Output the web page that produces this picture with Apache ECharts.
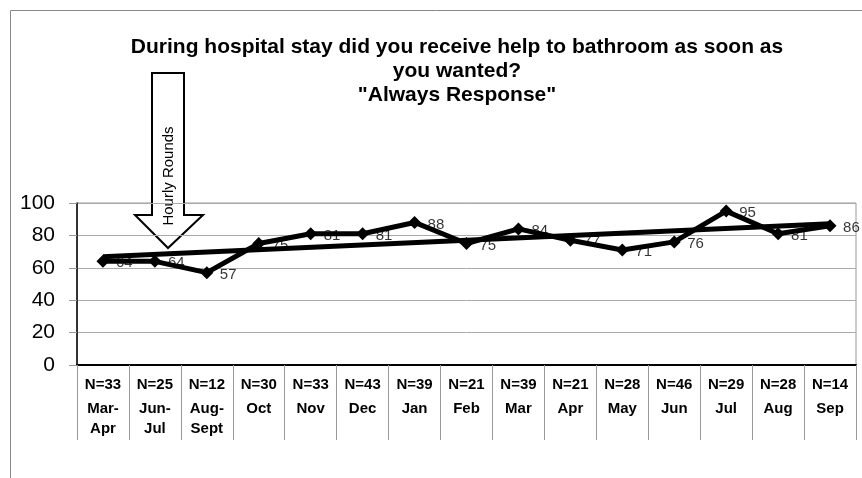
<!DOCTYPE html>
<html>
<head>
<meta charset="utf-8">
<script src="https://cdn.jsdelivr.net/npm/echarts@6/dist/echarts.min.js"></script>
<style>
  html, body { margin: 0; padding: 0; background: #fff; }
  #chart { width: 862px; height: 478px; }
</style>
</head>
<body>
<div id="chart"></div>
<script>
// Survey periods, sample sizes and "Always" response percentages
const categories = ['Mar-\nApr', 'Jun-\nJul', 'Aug-\nSept', 'Oct', 'Nov', 'Dec', 'Jan', 'Feb', 'Mar', 'Apr', 'May', 'Jun', 'Jul', 'Aug', 'Sep'];
const sampleSizes = ['N=33', 'N=25', 'N=12', 'N=30', 'N=33', 'N=43', 'N=39', 'N=21', 'N=39', 'N=21', 'N=28', 'N=46', 'N=29', 'N=28', 'N=14'];
const alwaysPct = [64, 64, 57, 75, 81, 81, 88, 75, 84, 77, 71, 76, 95, 81, 86];
// Linear trend endpoints (first and last period)
const trendEnds = [66.8, 87.2];
const yTicks = [0, 20, 40, 60, 80, 100];

const FONT = 'Arial, "Liberation Sans", sans-serif';
const chart = echarts.init(document.getElementById('chart'));

chart.setOption({
  animation: false,
  backgroundColor: '#fff',
  title: {
    text: 'During hospital stay did you receive help to bathroom as soon as\nyou wanted?\n"Always Response"',
    left: 452,
    textAlign: 'center',
    top: 30,
    textStyle: { fontFamily: FONT, fontSize: 21, fontWeight: 'bold', color: '#000', lineHeight: 24 }
  },
  grid: {
    left: 77, right: 6, top: 203, bottom: 113,
    show: true, borderColor: '#999', borderWidth: 1, backgroundColor: 'transparent'
  },
  xAxis: {
    type: 'category',
    data: categories,
    boundaryGap: true,
    axisLine: { lineStyle: { color: '#000', width: 2 } },
    axisTick: { show: true, length: 75, lineStyle: { color: '#999', width: 1 } },
    axisLabel: {
      interval: 0,
      margin: 6,
      formatter: function (value, idx) {
        const lines = value.split('\n').map(s => '{m|' + s + '}').join('\n');
        return '{n|' + sampleSizes[idx] + '}\n' + lines;
      },
      rich: {
        n: { fontFamily: FONT, fontSize: 15, fontWeight: 'bold', color: '#000', lineHeight: 28 },
        m: { fontFamily: FONT, fontSize: 15, fontWeight: 'bold', color: '#000', lineHeight: 20 }
      }
    }
  },
  yAxis: {
    type: 'value',
    min: yTicks[0],
    max: yTicks[yTicks.length - 1],
    interval: 20,
    axisLine: { show: true, lineStyle: { color: '#000', width: 1.5 } },
    axisTick: { show: true, length: 8, lineStyle: { color: '#999' } },
    axisLabel: { margin: 22, fontFamily: FONT, fontSize: 21, color: '#000' },
    splitLine: { lineStyle: { color: '#aaa', width: 1 } }
  },
  series: [
    {
      // value labels sit beneath the lines
      type: 'scatter',
      data: alwaysPct,
      symbolSize: 0,
      z: 1,
      label: {
        show: true,
        position: 'right',
        distance: 13,
        offset: [0, 2],
        fontFamily: FONT,
        fontSize: 15,
        color: '#000',
        formatter: p => p.value
      }
    },
    {
      type: 'line',
      data: alwaysPct,
      z: 3,
      symbol: 'diamond',
      symbolSize: 13,
      itemStyle: { color: '#000' },
      lineStyle: { color: '#000', width: 5 }
    },
    {
      type: 'line',
      data: [[0, trendEnds[0]], [categories.length - 1, trendEnds[1]]],
      z: 3,
      symbol: 'none',
      lineStyle: { color: '#000', width: 5 }
    }
  ],
  graphic: [
    {
      // chart frame
      type: 'rect',
      shape: { x: 10.5, y: 10.5, width: 900, height: 600 },
      style: { fill: 'none', stroke: '#888', lineWidth: 1 },
      silent: true
    },
    {
      type: 'group',
      z: 10,
      children: [
        {
          type: 'polygon',
          shape: {
            points: [[152, 73], [184, 73], [184, 215], [203, 215], [168, 248], [135, 215], [152, 215]]
          },
          style: { fill: '#fff', stroke: '#000', lineWidth: 2 }
        },
        {
          type: 'text',
          x: 169,
          y: 176,
          rotation: Math.PI / 2,
          style: {
            text: 'Hourly Rounds',
            fontFamily: FONT,
            fontSize: 15,
            fill: '#000',
            align: 'center',
            verticalAlign: 'middle'
          }
        }
      ]
    }
  ]
});
</script>
</body>
</html>
